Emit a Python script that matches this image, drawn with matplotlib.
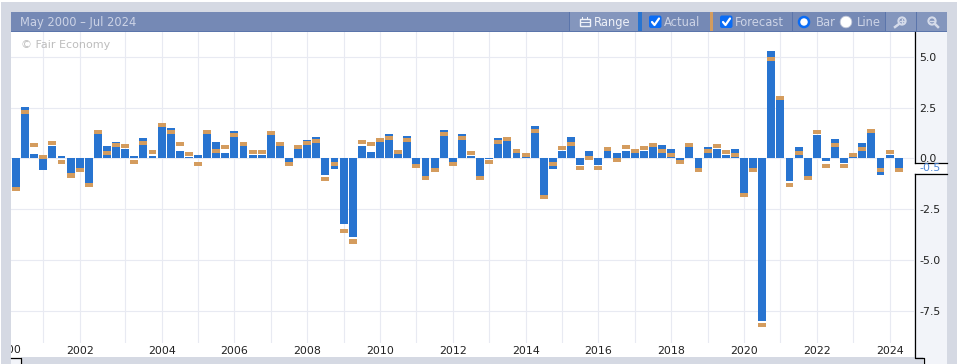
import matplotlib
matplotlib.use("Agg")
import matplotlib.pyplot as plt
from matplotlib.patches import Rectangle, Circle, FancyBboxPatch

# Quarterly readings (May 2000 - Jul 2024)
actual = [-1.4, 2.55, 0.2, -0.6, 0.6, 0.1, -0.75, -0.5, -1.2, 1.2,
          0.6, 0.8, 0.45, 0.12, 1.0, 0.12, 1.55, 1.5, 0.35, 0.05,
          0.15, 1.2, 0.8, 0.25, 1.35, 0.6, 0.15, 0.15, 1.15, 0.6,
          -0.2, 0.45, 0.9, 1.05, -0.8, -0.55, -3.25, -3.9, 0.6, 0.3,
          0.8, 1.2, 0.2, 1.1, -0.3, -0.85, -0.5, 1.4, -0.2, 1.2,
          0.1, -0.85, -0.05, 1.0, 0.85, 0.25, 0.05, 1.6, -1.8, -0.55,
          0.35, 1.05, -0.35, 0.35, -0.35, 0.35, 0.25, 0.35, 0.25, 0.35,
          0.55, 0.65, 0.45, -0.1, 0.55, -0.5, 0.55, 0.45, 0.15, 0.45,
          -1.7, -0.5, -8.0, 5.3, 2.85, -1.1, 0.55, -0.85, 1.15, -0.15,
          0.95, -0.25, 0.05, 0.75, 1.25, -0.8, 0.15, -0.5]
forecast = [-1.5, 2.3, 0.65, 0.05, 0.75, -0.2, -0.85, -0.6, -1.3, 1.3,
            0.25, 0.65, 0.6, -0.2, 0.75, 0.3, 1.65, 1.3, 0.7, 0.2,
            -0.3, 1.3, 0.35, 0.55, 1.15, 0.7, 0.3, 0.3, 1.25, 0.7,
            -0.3, 0.55, 0.75, 0.85, -1.0, -0.3, -3.6, -4.1, 0.8, 0.7,
            0.9, 1.0, 0.3, 0.9, -0.4, -0.95, -0.6, 1.2, -0.3, 1.0,
            0.25, -0.95, -0.2, 0.8, 0.95, 0.35, 0.15, 1.35, -1.9, -0.3,
            0.5, 0.7, -0.5, 0.0, -0.5, 0.45, -0.1, 0.55, 0.35, 0.5,
            0.65, 0.35, 0.15, -0.2, 0.65, -0.6, 0.35, 0.6, 0.3, 0.15,
            -1.8, -0.6, -8.2, 4.9, 2.95, -1.3, 0.25, -0.95, 1.3, -0.4,
            0.65, -0.4, 0.15, 0.45, 1.35, -0.6, 0.3, -0.6]
year_pos = [3, 7, 12, 16, 20, 24, 28, 32, 36, 40, 44, 48, 52, 56, 60, 64,
            68, 72, 76, 80, 84, 88, 92, 96]
year_labels = ["", "2002", "", "2004", "", "2006", "", "2008", "", "2010", "",
               "2012", "", "2014", "", "2016", "", "2018", "", "2020", "", "2022", "", "2024"]
first_year_pos = -1
first_year = "2000"
value_ticks = [5.0, 2.5, 0.0, -2.5, -5.0, -7.5]
last_value = "-0.5"

BLUE = "#2874d0"
ORANGE = "#d49c5e"
GRID = "#e8eaf2"
FRAME = "#d5d9e3"
PANEL = "#f2f4f9"
HEADER = "#7589b5"
BUTTON = "#8496bd"
EDGE = "#5b75ab"
HEAD_TEXT = "#ccd3e6"

W, H = 959, 364
fig = plt.figure(figsize=(W / 100, H / 100), dpi=100, facecolor="white")


def px_axes(z):
    # Axes covering the whole figure, in image pixels, for the page around the chart
    a = fig.add_axes([0, 0, 1, 1], zorder=z)
    a.set_xlim(0, W)
    a.set_ylim(H, 0)
    a.axis("off")
    a.patch.set_alpha(0)
    return a


def box(a, x0, y0, x1, y1, color):
    a.add_patch(Rectangle((x0, y0), x1 - x0, y1 - y0, facecolor=color, edgecolor="none"))


back = px_axes(0)
box(back, 914, 32, 947, 357, PANEL)
box(back, 923, 357, 947, 364, PANEL)

# Main chart
ax = fig.add_axes([11 / W, (H - 343) / H, 903 / W, 311 / H], zorder=1)
ax.patch.set_alpha(0)
x = list(range(len(actual)))
ax.bar(x, actual, width=0.87, color=BLUE, zorder=2)
ax.bar(x, [0.2] * len(forecast), bottom=[f - 0.1 for f in forecast], width=0.87, color=ORANGE, zorder=3)
ax.set_xticks(year_pos, year_labels)
ax.set_yticks(value_ticks, [f"{v:.1f}" for v in value_ticks])
ax.set_xlim(-5 / 9.1, 898 / 9.1)
ax.set_ylim(-9.1, 6.22)
ax.yaxis.tick_right()
ax.tick_params(length=0, labelsize=7.9, labelcolor="#222222")
ax.tick_params(axis="x", pad=2.5)
ax.tick_params(axis="y", pad=3.6)
ax.grid(True, color=GRID, linewidth=0.8)
ax.set_axisbelow(True)
for s in ax.spines.values():
    s.set_visible(False)
# The 2000 tick is left of the visible range, so it is placed by hand and the frame cuts it
ax.text(first_year_pos, 350, first_year, transform=ax.get_xaxis_transform().__class__(ax.transData, back.transData),
        color="#222222", fontsize=7.9, ha="center", va="center", clip_on=False)
ax.text(21, 45, "\u00a9 Fair Economy", transform=back.transData, color="#bdbdbd", fontsize=8.0, va="center")

# Frame, header and controls go on top
top = px_axes(2)
box(top, 0, 2, 11, 364, FRAME)
box(top, 947, 2, 957, 364, FRAME)
box(top, 0, 2, 957, 12, FRAME)
box(top, 0, 0, 1, 364, "white")
box(top, 21, 357, 923, 364, FRAME)
box(top, 11, 358, 20, 364, PANEL)

box(top, 11, 12, 947, 32, HEADER)
box(top, 11, 31, 947, 32, EDGE)
box(top, 570, 12, 638, 31, BUTTON)
box(top, 886, 12, 916, 31, BUTTON)
box(top, 917, 12, 947, 31, BUTTON)
for sx in [569, 792, 885, 916]:
    box(top, sx, 12, sx + 1, 31, EDGE)
box(top, 638, 12, 642, 31, BLUE)
box(top, 710, 12, 713, 31, ORANGE)


def head_text(xp, s, color=HEAD_TEXT):
    top.text(xp, 22.3, s, color=color, fontsize=8.3, va="center", ha="left")


def checkbox(xp):
    top.add_patch(FancyBboxPatch((xp + 1, 16.5), 10.5, 10.5, boxstyle="round,pad=1,rounding_size=2",
                                 facecolor="#0a6cf5", edgecolor="none"))
    top.plot([xp + 3, xp + 5.5, xp + 10], [22, 25, 18.5], color="white", linewidth=1.6, solid_capstyle="round")


head_text(20, "May 2000 \u2013 Jul 2024")
head_text(594, "Range", "#eef1f8")
head_text(664, "Actual")
head_text(735, "Forecast")
head_text(816, "Bar")
head_text(857, "Line")
checkbox(649)
checkbox(720)
top.add_patch(Circle((804, 22), 5.0, facecolor="white", edgecolor="#0a6cf5", linewidth=1.8))
top.add_patch(Circle((846, 22), 5.8, facecolor="white", edgecolor="#c0c6d8", linewidth=0.6))

# Range calendar icon
top.add_patch(Rectangle((579.5, 19), 10, 7, facecolor="none", edgecolor="#eef1f8", linewidth=1))
box(top, 579.5, 21.5, 589.5, 22.5, "#eef1f8")
box(top, 581.5, 17, 582.5, 20, "#eef1f8")
box(top, 586.5, 17, 587.5, 20, "#eef1f8")

# Zoom icons
for cx, plus in [(902, True), (932, False)]:
    top.add_patch(Circle((cx, 21), 3.6, facecolor="none", edgecolor="#d5dbea", linewidth=1.5))
    top.plot([cx - 3, cx - 7] if plus else [cx + 3, cx + 6], [24, 27], color="#d5dbea", linewidth=1.8)
    top.plot([cx - 2, cx + 2], [21, 21], color="#d5dbea", linewidth=1)
    if plus:
        top.plot([cx, cx], [19, 23], color="#d5dbea", linewidth=1)

# Black axis outline with the gap for the latest value
box(top, 914, 164, 947, 173, "white")
top.plot([914.5, 914.5], [32, 162.5], color="black", linewidth=0.9)
top.plot([914.5, 947], [162.5, 162.5], color="black", linewidth=0.9)
top.plot([914.5, 947], [173.5, 173.5], color="black", linewidth=0.9)
top.plot([914.5, 914.5, 923.5, 923.5], [173.5, 357.5, 357.5, 364], color="black", linewidth=0.9)
top.plot([11, 20.5, 20.5], [357.5, 357.5, 364], color="black", linewidth=0.9)
top.text(919.3, 168.3, last_value, color="#4a86d8", fontsize=7.9, va="center", ha="left")

fig.savefig("out.png", dpi=100)
